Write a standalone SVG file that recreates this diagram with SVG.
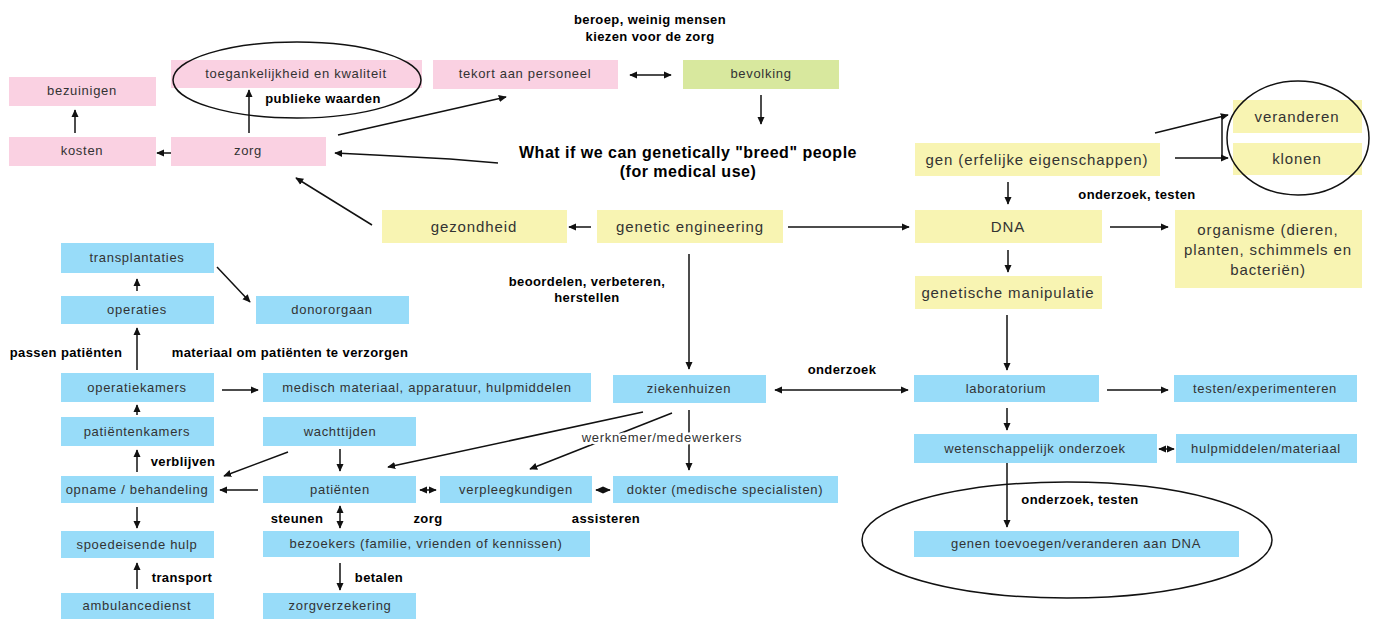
<svg xmlns="http://www.w3.org/2000/svg" width="1378" height="619" viewBox="0 0 1378 619">
<style>
text{font-family:"Liberation Sans",Arial,sans-serif;text-anchor:middle}
.t{font-size:13px;letter-spacing:0.7px;fill:#333}
.ty{font-size:15px;letter-spacing:0.9px;fill:#333}
.lb{font-size:13px;font-weight:bold;letter-spacing:0.4px;fill:#000}
.wt{font-size:16px;font-weight:bold;letter-spacing:0.5px;fill:#000}
.pk{fill:#fad1e2}
.gr{fill:#d8e89e}
.ye{fill:#f8f4b2}
.bl{fill:#98dcf9}
.c line,.c polyline{stroke:#111;stroke-width:1.5;fill:none;marker-end:url(#ah)}
.c .d{marker-start:url(#ah)}
.c .n{marker-end:none}
.el{fill:none;stroke:#111;stroke-width:1.5}
.bgw{stroke:#fff;stroke-width:5px;paint-order:stroke}
</style>
<defs>
<marker id="ah" viewBox="0 0 10 10" refX="9" refY="5" markerWidth="8" markerHeight="8" markerUnits="userSpaceOnUse" orient="auto-start-reverse"><path d="M0,0.5 L10,5 L0,9.5 z" fill="#111"/></marker>
</defs>
<rect width="1378" height="619" fill="#fff"/>

<g id="nodes">
<g id="bezuinigen"><rect class="pk" x="9" y="77" width="147" height="29"/><text class="t" x="82" y="95">bezuinigen</text></g>
<g id="kosten"><rect class="pk" x="9" y="137" width="147" height="29"/><text class="t" x="82" y="155">kosten</text></g>
<g id="zorg"><rect class="pk" x="171" y="137" width="155" height="29"/><text class="t" x="248" y="155">zorg</text></g>
<g id="toegankelijkheid"><rect class="pk" x="171" y="60" width="251" height="28"/><text class="t" x="296" y="78">toegankelijkheid en kwaliteit</text></g>
<g id="tekort"><rect class="pk" x="433" y="60" width="185" height="29"/><text class="t" x="525" y="78">tekort aan personeel</text></g>
<g id="bevolking"><rect class="gr" x="683" y="60" width="156" height="29"/><text class="t" x="761" y="78">bevolking</text></g>

<g id="gezondheid"><rect class="ye" x="382" y="210" width="185" height="33"/><text class="ty" x="474" y="232">gezondheid</text></g>
<g id="genetic-engineering"><rect class="ye" x="597" y="210" width="186" height="33"/><text class="ty" x="690" y="232">genetic engineering</text></g>
<g id="gen"><rect class="ye" x="915" y="143" width="245" height="33"/><text class="ty" x="1037" y="165">gen (erfelijke eigenschappen)</text></g>
<g id="dna"><rect class="ye" x="915" y="210" width="187" height="33"/><text class="ty" x="1008" y="232">DNA</text></g>
<g id="genetische-manipulatie"><rect class="ye" x="915" y="276" width="187" height="33"/><text class="ty" x="1008" y="298">genetische manipulatie</text></g>
<g id="organisme"><rect class="ye" x="1175" y="210" width="187" height="78"/><text class="ty" x="1268" y="235">organisme (dieren,</text><text class="ty" x="1268" y="255">planten, schimmels en</text><text class="ty" x="1268" y="275">bacteriën)</text></g>
<g id="veranderen"><rect class="ye" x="1233" y="100" width="129" height="33"/><text class="ty" x="1297" y="122">veranderen</text></g>
<g id="klonen"><rect class="ye" x="1233" y="143" width="129" height="32"/><text class="ty" x="1297" y="164">klonen</text></g>

<g id="transplantaties"><rect class="bl" x="61" y="243" width="153" height="30"/><text class="t" x="137" y="262">transplantaties</text></g>
<g id="operaties"><rect class="bl" x="61" y="296" width="153" height="28"/><text class="t" x="137" y="314">operaties</text></g>
<g id="donororgaan"><rect class="bl" x="256" y="296" width="153" height="28"/><text class="t" x="332" y="314">donororgaan</text></g>
<g id="operatiekamers"><rect class="bl" x="61" y="373" width="153" height="29"/><text class="t" x="137" y="392">operatiekamers</text></g>
<g id="medisch-materiaal"><rect class="bl" x="263" y="373" width="328" height="29"/><text class="t" x="427" y="392">medisch materiaal, apparatuur, hulpmiddelen</text></g>
<g id="ziekenhuizen"><rect class="bl" x="613" y="375" width="153" height="28"/><text class="t" x="689" y="393">ziekenhuizen</text></g>
<g id="laboratorium"><rect class="bl" x="914" y="375" width="185" height="27"/><text class="t" x="1006" y="393">laboratorium</text></g>
<g id="testen"><rect class="bl" x="1174" y="375" width="183" height="27"/><text class="t" x="1265" y="393">testen/experimenteren</text></g>
<g id="wetenschappelijk"><rect class="bl" x="914" y="434" width="243" height="29"/><text class="t" x="1035" y="453">wetenschappelijk onderzoek</text></g>
<g id="hulpmiddelen"><rect class="bl" x="1176" y="434" width="181" height="29"/><text class="t" x="1266" y="453">hulpmiddelen/materiaal</text></g>
<g id="genen"><rect class="bl" x="914" y="531" width="325" height="26"/><text class="t" x="1076" y="548">genen toevoegen/veranderen aan DNA</text></g>
<g id="patientenkamers"><rect class="bl" x="61" y="417" width="153" height="29"/><text class="t" x="137" y="436">patiëntenkamers</text></g>
<g id="wachttijden"><rect class="bl" x="263" y="417" width="153" height="29"/><text class="t" x="340" y="436">wachttijden</text></g>
<g id="opname"><rect class="bl" x="61" y="476" width="153" height="27"/><text class="t" x="137" y="494">opname / behandeling</text></g>
<g id="patienten"><rect class="bl" x="263" y="476" width="153" height="27"/><text class="t" x="340" y="494">patiënten</text></g>
<g id="verpleegkundigen"><rect class="bl" x="440" y="476" width="152" height="27"/><text class="t" x="516" y="494">verpleegkundigen</text></g>
<g id="dokter"><rect class="bl" x="613" y="476" width="225" height="27"/><text class="t" x="725" y="494">dokter (medische specialisten)</text></g>
<g id="spoedeisende-hulp"><rect class="bl" x="61" y="531" width="153" height="27"/><text class="t" x="137" y="549">spoedeisende hulp</text></g>
<g id="bezoekers"><rect class="bl" x="263" y="531" width="327" height="26"/><text class="t" x="426" y="548">bezoekers (familie, vrienden of kennissen)</text></g>
<g id="ambulancedienst"><rect class="bl" x="61" y="593" width="153" height="26"/><text class="t" x="137" y="610">ambulancedienst</text></g>
<g id="zorgverzekering"><rect class="bl" x="263" y="593" width="153" height="26"/><text class="t" x="340" y="610">zorgverzekering</text></g>
</g>

<g id="groupings">
<ellipse class="el" cx="297" cy="80" rx="124" ry="38"/>
<ellipse class="el" cx="1298" cy="138" rx="71" ry="57"/>
<ellipse class="el" cx="1067" cy="540" rx="205" ry="58"/>
</g>

<g id="connectors" class="c">
<line x1="249" y1="133" x2="249" y2="90"/>
<line x1="75" y1="133" x2="75" y2="110"/>
<line x1="171" y1="153" x2="157" y2="153"/>
<line x1="338" y1="135" x2="506" y2="97"/>
<polyline points="498,163 450,159 375,155 335,153"/>
<line class="d" x1="630" y1="75" x2="671" y2="75"/>
<line x1="761" y1="95" x2="761" y2="124"/>
<line x1="372" y1="225" x2="296" y2="178"/>
<line x1="591" y1="227" x2="569" y2="227"/>
<line x1="788" y1="227" x2="909" y2="227"/>
<line x1="1008" y1="182" x2="1008" y2="204"/>
<line x1="1008" y1="250" x2="1008" y2="272"/>
<line x1="1110" y1="227" x2="1168" y2="227"/>
<line x1="1155" y1="133" x2="1228" y2="115"/>
<line x1="1175" y1="158" x2="1228" y2="158"/>
<line class="n" x1="1222" y1="115" x2="1222" y2="158"/>
<line x1="689" y1="254" x2="689" y2="369"/>
<line x1="1007" y1="315" x2="1007" y2="370"/>
<line class="d" x1="775" y1="390" x2="908" y2="390"/>
<line x1="1107" y1="390" x2="1168" y2="390"/>
<line x1="1007" y1="408" x2="1007" y2="430"/>
<line class="d" x1="1174" y1="449" x2="1159" y2="449"/>
<line x1="1007" y1="463" x2="1007" y2="527"/>
<line x1="137" y1="291" x2="137" y2="279"/>
<line x1="217" y1="267" x2="250" y2="302"/>
<line x1="137" y1="370" x2="137" y2="328"/>
<line x1="222" y1="390" x2="258" y2="390"/>
<line x1="137" y1="415" x2="137" y2="405"/>
<line x1="137" y1="472" x2="137" y2="450"/>
<line x1="258" y1="490" x2="220" y2="490"/>
<line x1="340" y1="449" x2="340" y2="471"/>
<line x1="288" y1="452" x2="224" y2="476"/>
<line x1="643" y1="412" x2="388" y2="467"/>
<line x1="672" y1="413" x2="530" y2="469"/>
<line x1="689" y1="410" x2="689" y2="470"/>
<line class="d" x1="420" y1="490" x2="436" y2="490"/>
<line class="d" x1="596" y1="490" x2="610" y2="490"/>
<line class="d" x1="340" y1="506" x2="340" y2="528"/>
<line x1="137" y1="507" x2="137" y2="528"/>
<line x1="137" y1="589" x2="137" y2="563"/>
<line x1="340" y1="563" x2="340" y2="590"/>
</g>

<g id="labels">
<text class="lb" x="650" y="24">beroep, weinig mensen</text>
<text class="lb" x="650" y="41">kiezen voor de zorg</text>
<text class="lb" x="323" y="103">publieke waarden</text>
<text class="wt" x="688" y="158">What if we can genetically "breed" people</text>
<text class="wt" x="688" y="177">(for medical use)</text>
<text class="lb" x="1137" y="199">onderzoek, testen</text>
<text class="lb" x="587" y="286">beoordelen, verbeteren,</text>
<text class="lb" x="587" y="302">herstellen</text>
<text class="lb" x="66" y="357">passen patiënten</text>
<text class="lb" x="290" y="357">materiaal om patiënten te verzorgen</text>
<text class="lb" x="842" y="374">onderzoek</text>
<text class="t bgw" x="662" y="442">werknemer/medewerkers</text>
<text class="lb" x="183" y="466">verblijven</text>
<text class="lb" x="297" y="523">steunen</text>
<text class="lb" x="428" y="523">zorg</text>
<text class="lb" x="606" y="523">assisteren</text>
<text class="lb" x="1080" y="504">onderzoek, testen</text>
<text class="lb" x="182" y="582">transport</text>
<text class="lb" x="379" y="582">betalen</text>
</g>
</svg>
